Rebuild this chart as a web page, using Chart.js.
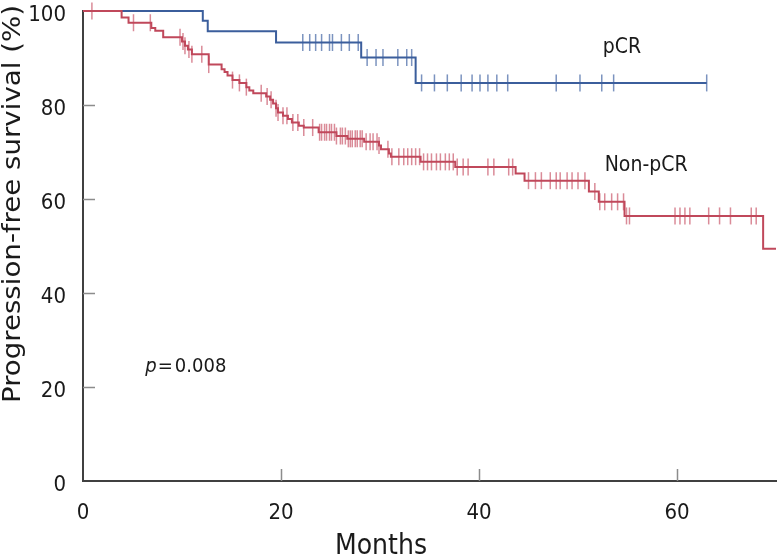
<!DOCTYPE html>
<html>
<head>
<meta charset="utf-8">
<script src="https://cdn.jsdelivr.net/npm/chart.js@4.4.1/dist/chart.umd.min.js"></script>
<style>
  html, body { margin: 0; padding: 0; background: #fff; }
  #wrap { width: 779px; height: 557px; position: relative; }
</style>
</head>
<body>
<div id="wrap"><canvas id="kmChart"></canvas></div>
<script>
// pCR arm: event times (months) and survival (%) after each step
const pcrTimes = [0, 12.1, 12.6, 19.5, 28.1, 33.6, 63.0];
const pcrSurv  = [100, 97.9, 95.7, 93.3, 90.1, 84.7, 84.7];
const pcrCensor = [22.2, 22.9, 23.5, 24.1, 24.9, 25.2, 26.1, 26.9, 27.8,
  28.7, 29.6, 30.3, 31.8, 32.7, 33.2,
  34.2, 35.5, 36.8, 38.2, 39.3, 40.1, 40.9, 41.8, 42.9,
  47.8, 50.2, 52.4, 53.6, 63.0];

// Non-pCR arm
const nonTimes = [0, 3.9, 4.6, 6.9, 7.3, 8.1, 10.0, 10.3, 10.6, 11.0, 12.7, 14.0, 14.3, 14.6,
  15.1, 15.8, 16.5, 16.8, 17.2, 18.5, 18.9, 19.2, 19.5, 19.7, 20.2, 20.7, 21.1, 21.8, 22.3,
  23.8, 25.6, 26.7, 28.4, 29.9, 30.1, 30.9, 31.1, 34.1, 37.6, 43.7, 44.6, 51.1, 52.1, 54.7,
  68.7, 70];
const nonSurv = [100, 98.6, 97.5, 96.4, 95.8, 94.4, 93.5, 92.6, 91.8, 90.8, 88.6, 87.6, 87.0, 86.3,
  85.3, 84.7, 83.8, 83.1, 82.5, 81.8, 81.1, 80.3, 79.3, 78.4, 77.7, 77.0, 76.3, 75.6, 75.2,
  74.2, 73.4, 72.8, 72.2, 71.4, 70.6, 69.7, 69.0, 67.9, 66.8, 65.4, 63.9, 61.6, 59.4, 56.4,
  49.4, 49.4];
const nonCensor = [0.9, 5.1, 6.8, 9.8, 10.1, 10.3, 10.7, 11.0, 12.0, 12.7,
  15.1, 15.8, 16.5, 18.0, 18.6, 19.0, 19.5, 19.7, 20.2, 20.6, 21.2, 21.7, 22.3, 23.2, 23.9,
  24.1, 24.4, 24.6, 24.9, 25.1, 25.4, 25.6, 26.0, 26.2, 26.5, 26.8, 27.0, 27.2, 27.5, 27.7,
  28.0, 28.2, 28.6, 29.0, 29.3, 29.7, 29.9,
  30.8, 31.2, 31.9, 32.4, 32.8, 33.2, 33.6, 34.0, 34.4, 34.8, 35.2, 35.7, 36.1, 36.6, 37.0,
  37.4, 37.8, 38.4, 38.9, 40.9, 41.5, 43.0, 43.4,
  45.0, 45.7, 46.3, 47.2, 47.8, 48.2, 48.9, 49.4, 50.0, 50.7, 51.7, 52.2, 52.7, 53.4, 54.0,
  54.6, 54.9, 55.2, 59.8, 60.3, 60.8, 61.3, 63.2, 64.3, 65.4, 67.5, 68.0];

const xTicks = [0, 20, 40, 60];
const yTicks = [0, 20, 40, 60, 80, 100];

const FONT = "'Liberation Sans Narrow', 'DejaVu Sans Condensed', sans-serif";

// survival value on the step curve at time t
function survAt(times, surv, t) {
    let s = surv[0];
    for (let i = 0; i < times.length; i++) {
        if (times[i] <= t) s = surv[i];
    }
    return s;
}

function steps(times, surv) {
    return times.map((t, i) => ({ x: t, y: surv[i] }));
}
function marks(times, surv, censor) {
    return censor.map(t => ({ x: t, y: survAt(times, surv, t) }));
}

const extras = {
    id: 'extras',
    beforeDatasetsDraw(chart) {
        const { ctx, scales: { x, y } } = chart;
        ctx.save();
        ctx.strokeStyle = '#8c8c8c';
        ctx.lineWidth = 1.5;
        ctx.beginPath();
        xTicks.slice(1).forEach(v => {
            const px = Math.round(x.getPixelForValue(v)) + 0.5;
            ctx.moveTo(px, y.bottom);
            ctx.lineTo(px, y.bottom - 12);
        });
        yTicks.slice(1, -1).forEach(v => {
            const py = Math.round(y.getPixelForValue(v)) + 0.5;
            ctx.moveTo(x.left, py);
            ctx.lineTo(x.left + 12, py);
        });
        ctx.stroke();
        ctx.restore();
    },
    afterDraw(chart) {
        const { ctx, scales: { x, y } } = chart;
        ctx.save();
        ctx.fillStyle = '#1a1a1a';
        ctx.textBaseline = 'middle';

        // curve labels
        ctx.font = '21px ' + FONT;
        ctx.textAlign = 'left';
        ctx.fillText('pCR', x.getPixelForValue(52.5), y.getPixelForValue(92.3));
        ctx.fillText('Non-pCR', x.getPixelForValue(52.7), y.getPixelForValue(67.2));

        // p value
        let px = x.getPixelForValue(6.3);
        const py = y.getPixelForValue(24.3);
        ctx.font = 'italic 20px ' + FONT;
        ctx.fillText('p', px, py);
        px += ctx.measureText('p').width + 1;
        ctx.font = '20px ' + FONT;
        ctx.fillText('=', px, py);
        px += ctx.measureText('=').width + 2;
        ctx.fillText('0.008', px, py);

        // axis titles
        ctx.font = '28px ' + FONT;
        ctx.textAlign = 'center';
        ctx.fillText('Months', 381, 547);

        ctx.translate(13, 204);
        ctx.rotate(-Math.PI / 2);
        ctx.font = '25px ' + FONT;
        const w = ctx.measureText('Progression-free survival (%)').width;
        ctx.scale(398 / w, 1);
        ctx.fillText('Progression-free survival (%)', 0, 0);
        ctx.restore();
    }
};

new Chart(document.getElementById('kmChart'), {
    type: 'line',
    data: {
        datasets: [
            {
                label: 'Non-pCR',
                data: steps(nonTimes, nonSurv),
                stepped: 'before',
                borderColor: '#c0485b',
                borderWidth: 2,
                pointRadius: 0,
                fill: false,
                clip: false,
                order: 0
            },
            {
                label: 'pCR',
                data: steps(pcrTimes, pcrSurv),
                stepped: 'before',
                borderColor: '#3b5e9c',
                borderWidth: 2,
                pointRadius: 0,
                fill: false,
                clip: false,
                order: 1
            },
            {
                label: 'Non-pCR censored',
                type: 'scatter',
                data: marks(nonTimes, nonSurv, nonCensor),
                pointStyle: 'line',
                rotation: 90,
                pointRadius: 8.5,
                borderWidth: 1.5,
                borderColor: 'rgba(205, 100, 118, 0.75)',
                clip: false,
                order: 2
            },
            {
                label: 'pCR censored',
                type: 'scatter',
                data: marks(pcrTimes, pcrSurv, pcrCensor),
                pointStyle: 'line',
                rotation: 90,
                pointRadius: 8.5,
                borderWidth: 1.5,
                borderColor: 'rgba(100, 128, 180, 0.85)',
                clip: false,
                order: 3
            }
        ]
    },
    options: {
        responsive: true,
        maintainAspectRatio: false,
        animation: false,
        events: [],
        layout: { autoPadding: false, padding: { top: 11, right: 3, left: 0, bottom: 0 } },
        plugins: {
            legend: { display: false },
            tooltip: { enabled: false }
        },
        scales: {
            x: {
                type: 'linear',
                min: 0,
                max: 70,
                afterBuildTicks: scale => { scale.ticks = xTicks.map(v => ({ value: v })); },
                afterFit: scale => {
                    scale.height = 76;
                    scale.paddingLeft = 0;
                    scale.paddingRight = 0;
                },
                grid: { display: false, drawTicks: false },
                border: { display: true, color: '#404040', width: 2 },
                ticks: {
                    color: '#1a1a1a',
                    padding: 19,
                    maxRotation: 0,
                    font: { family: FONT, size: 22 }
                }
            },
            y: {
                type: 'linear',
                min: 0,
                max: 100,
                afterBuildTicks: scale => { scale.ticks = yTicks.map(v => ({ value: v })); },
                afterFit: scale => {
                    scale.width = 83;
                    scale.paddingTop = 0;
                    scale.paddingBottom = 0;
                },
                grid: { display: false, drawTicks: false },
                border: { display: true, color: '#404040', width: 2 },
                ticks: {
                    color: '#1a1a1a',
                    padding: 17,
                    labelOffset: 4,
                    font: { family: FONT, size: 22 }
                }
            }
        }
    },
    plugins: [extras]
});
</script>
</body>
</html>
